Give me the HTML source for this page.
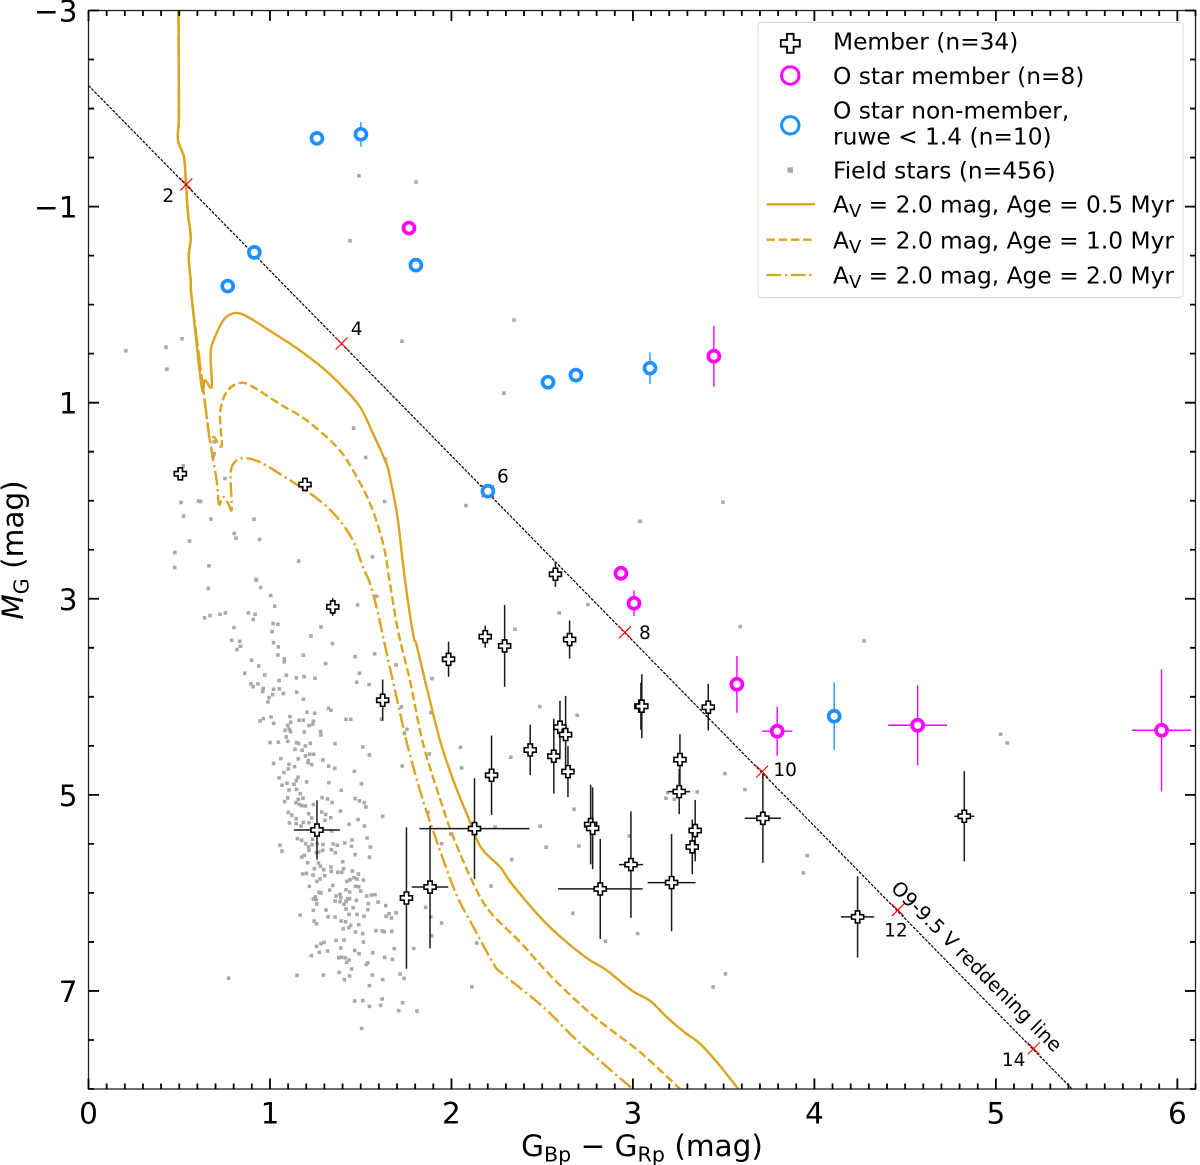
<!DOCTYPE html>
<html lang="en">
<head>
<meta charset="utf-8">
<title>Colour-magnitude diagram</title>
<style>
  html, body { margin: 0; padding: 0; background: #fff; }
  svg { display: block; font-family: "DejaVu Sans", "Liberation Sans", sans-serif; fill: #000; }
</style>
</head>
<body>
<svg id="chart" xmlns="http://www.w3.org/2000/svg" width="1200" height="1165" viewBox="0 0 1200 1165">
  <defs>
    <clipPath id="plot-clip"><rect x="88.5" y="10.5" width="1107" height="1078.5"></rect></clipPath>
  </defs>
  <rect x="0" y="0" width="1200" height="1165" fill="#fff"></rect>
  <g id="field-layer" clip-path="url(#plot-clip)"></g>
  <g id="iso-layer" clip-path="url(#plot-clip)"></g>
  <g id="reddening-layer" clip-path="url(#plot-clip)"></g>
  <g id="member-layer"></g>
  <g id="ostar-layer"></g>
  <g id="axes-layer"></g>

  <text x="642" y="1156" font-size="29.5" text-anchor="middle">G<tspan font-size="20.6" dy="5.5">Bp</tspan><tspan dy="-5.5"> − G</tspan><tspan font-size="20.6" dy="5.5">Rp</tspan><tspan dy="-5.5"> (mag)</tspan></text>
  <text transform="translate(23,550) rotate(-90)" font-size="29.5" text-anchor="middle"><tspan font-style="italic">M</tspan><tspan font-size="20.6" dy="5.5">G</tspan><tspan dy="-5.5"> (mag)</tspan></text>

  <g>
    <rect x="758" y="22.5" width="425" height="275" rx="4" fill="#fff" fill-opacity="0.85" stroke="#d8d8d8" stroke-width="1"></rect>
    <g>
      <path d="M-3.3,-9.5H3.3V-3.3H9.5V3.3H3.3V9.5H-3.3V3.3H-9.5V-3.3H-3.3Z" transform="translate(790.3,43.3)" fill="#fff" stroke="#000" stroke-width="1.8"></path>
      <text x="833" y="49.5" font-size="23.3">Member (n=34)</text>
    </g>
    <g>
      <circle cx="790.3" cy="75.5" r="8.7" fill="#fff" stroke="#ff00ff" stroke-width="3"></circle>
      <text x="833" y="84" font-size="23.3">O star member (n=8)</text>
    </g>
    <g>
      <circle cx="790.3" cy="125.3" r="8.7" fill="#fff" stroke="#1e90ff" stroke-width="3"></circle>
      <text x="833" y="118.3" font-size="23.3">O star non-member,</text>
      <text x="833" y="144.3" font-size="23.3">ruwe &lt; 1.4 (n=10)</text>
    </g>
    <g>
      <rect x="787.5" y="167.3" width="5.5" height="5.5" fill="#a9a9a9"></rect>
      <text x="833" y="178.3" font-size="23.3">Field stars (n=456)</text>
    </g>
    <g>
      <line x1="766.5" y1="204.3" x2="815" y2="204.3" stroke="#daa520" stroke-width="2.3"></line>
      <text x="833" y="212.7" font-size="23.3">A<tspan font-size="18" dy="4.5">V</tspan><tspan dy="-4.5"> = 2.0 mag, Age = 0.5 Myr</tspan></text>
    </g>
    <g>
      <line x1="766.5" y1="239.7" x2="815" y2="239.7" stroke="#daa520" stroke-width="2.3" stroke-dasharray="8.5 3.7"></line>
      <text x="833" y="248.3" font-size="23.3">A<tspan font-size="18" dy="4.5">V</tspan><tspan dy="-4.5"> = 2.0 mag, Age = 1.0 Myr</tspan></text>
    </g>
    <g>
      <line x1="766.5" y1="275" x2="815" y2="275" stroke="#daa520" stroke-width="2.3" stroke-dasharray="14.7 3.7 2.3 3.7"></line>
      <text x="833" y="283.3" font-size="23.3">A<tspan font-size="18" dy="4.5">V</tspan><tspan dy="-4.5"> = 2.0 mag, Age = 2.0 Myr</tspan></text>
    </g>
  </g>
</svg>

<script>
const xMajorTicks = [0, 1, 2, 3, 4, 5, 6];
const xTickLabels = ['0', '1', '2', '3', '4', '5', '6'];
const yMajorTicks = [-3, -1, 1, 3, 5, 7];
const yTickLabels = ['−3', '−1', '1', '3', '5', '7'];

const reddeningColor = [0, 5.42];
const reddeningMag = [-2.235, 8];
const extinctionLabels = ['2', '4', '6', '8', '10', '12', '14'];
const extinctionColor = [0.539, 1.395, 2.201, 2.956, 3.712, 4.46, 5.208];
const extinctionMag = [-1.226, 0.396, 1.903, 3.342, 4.763, 6.175, 7.587];

const memberColor = [1.984, 2.186, 2.293, 2.651, 3.044, 3.049, 3.415, 2.598, 2.629, 2.564, 2.642, 2.434, 2.221, 2.127, 1.882, 1.752, 1.259, 1.621, 1.346, 0.506, 1.193, 2.573, 3.259, 3.255, 2.767, 2.778, 3.343, 3.327, 2.989, 3.213, 2.82, 3.716, 4.826, 4.238];
const memberMag = [3.617, 3.386, 3.481, 3.416, 4.096, 4.096, 4.106, 4.31, 4.385, 4.606, 4.763, 4.542, 4.8, 5.344, 5.94, 6.052, 5.359, 4.035, 3.083, 1.725, 1.834, 2.75, 4.64, 4.967, 5.303, 5.341, 5.364, 5.531, 5.711, 5.895, 5.959, 5.239, 5.218, 6.245];
const memberColorErr = [0.01, 0.01, 0.01, 0.01, 0.01, 0.01, 0.012, 0.01, 0.01, 0.01, 0.01, 0.01, 0.01, 0.303, 0.101, 0.01, 0.127, 0.01, 0.01, 0.01, 0.01, 0.01, 0.01, 0.06, 0.01, 0.01, 0.02, 0.012, 0.066, 0.132, 0.233, 0.1, 0.055, 0.092];
const memberMagErr = [0.18, 0.114, 0.417, 0.195, 0.24, 0.326, 0.238, 0.27, 0.394, 0.382, 0.26, 0.257, 0.406, 0.513, 0.626, 0.721, 0.302, 0.211, 0.09, 0.03, 0.03, 0.13, 0.26, 0.23, 0.406, 0.417, 0.313, 0.279, 0.542, 0.496, 0.51, 0.454, 0.46, 0.415];

const oMemberColor = [1.766, 3.446, 2.934, 3.006, 3.573, 3.795, 4.569, 5.913];
const oMemberMag = [-0.781, 0.526, 2.74, 3.046, 3.872, 4.351, 4.29, 4.341];
const oMemberColorErr = [0.005, 0.005, 0.01, 0.01, 0.01, 0.084, 0.162, 0.162];
const oMemberMagErr = [0.06, 0.31, 0.04, 0.13, 0.29, 0.25, 0.408, 0.622];

const oOtherColor = [1.259, 1.501, 0.914, 0.767, 1.804, 2.532, 2.686, 3.094, 4.109, 2.201];
const oOtherMag = [-1.696, -1.737, -0.533, -0.189, -0.403, 0.791, 0.719, 0.648, 4.198, 1.903];
const oOtherColorErr = [0.005, 0.005, 0.005, 0.005, 0.005, 0.01, 0.01, 0.01, 0.01, 0.01];
const oOtherMagErr = [0.02, 0.124, 0.02, 0.02, 0.02, 0.06, 0.07, 0.16, 0.345, 0.04];

const isochroneUpper = [[0.496,-3],[0.497,-2.495],[0.498,-1.913],[0.493,-1.679],[0.526,-1.505],[0.537,-1.23],[0.548,-0.934],[0.563,-0.689],[0.552,-0.485],[0.563,-0.25],[0.57,-0.046]];
const isochroneAge05 = [[0.624,0.839],[0.642,0.77],[0.679,0.839],[0.673,0.495],[0.697,0.329],[0.752,0.138],[0.817,0.084],[0.89,0.138],[1,0.267],[1.147,0.444],[1.292,0.648],[1.402,0.842],[1.496,1.043],[1.567,1.311],[1.634,1.587],[1.661,1.757],[1.705,2.199],[1.744,2.811],[1.79,3.372],[1.808,3.474],[1.863,3.9],[1.937,4.444],[2.01,4.852],[2.084,5.192],[2.161,5.532],[2.268,5.736],[2.332,5.906],[2.488,6.246],[2.608,6.46],[2.745,6.664],[2.856,6.79],[2.993,6.994],[3.098,7.106],[3.186,7.266],[3.287,7.426],[3.366,7.531],[3.462,7.725],[3.581,8]];
const isochroneAge10 = [[0.642,1.005],[0.669,1.383],[0.691,1.349],[0.734,1.441],[0.725,1.107],[0.761,0.89],[0.835,0.798],[0.906,0.839],[1.055,1.015],[1.202,1.179],[1.368,1.451],[1.457,1.689],[1.551,2.026],[1.623,2.434],[1.661,2.842],[1.705,3.321],[1.771,3.832],[1.843,4.474],[1.937,5.039],[2.01,5.43],[2.121,5.906],[2.213,6.195],[2.378,6.501],[2.562,6.875],[2.8,7.283],[3.039,7.623],[3.26,8]];
const isochroneAge20 = [[0.642,1.005],[0.669,1.383],[0.706,1.791],[0.719,2.036],[0.741,1.961],[0.769,2.026],[0.789,2.087],[0.783,1.757],[0.796,1.628],[0.851,1.566],[0.945,1.607],[1.11,1.791],[1.257,1.974],[1.368,2.165],[1.457,2.403],[1.512,2.676],[1.551,2.842],[1.595,3.148],[1.643,3.556],[1.705,4.066],[1.76,4.512],[1.843,5.056],[1.937,5.566],[2.029,6.025],[2.121,6.348],[2.231,6.722],[2.277,6.817],[2.506,7.164],[2.672,7.47],[2.837,7.742],[2.999,8]];

const fieldStars = [
[0.66,2.893],[0.925,2.811],[0.949,2.886],[1.004,2.967],[1.026,3.076],[0.64,3.195],[0.67,3.171],[0.725,3.158],[0.754,3.144],[0.881,3.144],[0.918,3.158],[0.908,3.212],[1.017,3.253],[1.044,3.26],[1.011,3.335],[0.802,3.294],[0.789,3.423],[0.833,3.433],[0.837,3.484],[0.818,3.518],[1.02,3.447],[1.046,3.491],[1.044,3.573],[1.079,3.613],[1.079,3.644],[0.899,3.627],[0.938,3.685],[0.861,3.76],[0.971,3.777],[1.09,3.78],[1.145,3.807],[1.188,3.794],[1.248,3.811],[1.05,3.834],[0.895,3.868],[0.907,3.896],[0.934,3.868],[0.963,3.916],[0.96,3.947],[1.02,3.923],[1.052,3.919],[1.015,3.977],[1.074,3.967],[0.995,4.008],[0.989,4.052],[1.147,3.953],[1.184,4.025],[1.281,3.287],[1.226,3.379],[1.344,3.457],[1.184,3.576],[1.307,3.661],[1.469,3.59],[1.483,3.063],[1.588,2.974],[1.577,3.562],[1.695,3.675],[1.493,3.76],[1.478,3.851],[1.546,3.875],[1.893,3.814],[1.724,4.103],[1.887,4.161],[1.755,4.331],[1.741,4.375],[1.878,4.582],[1.729,4.705],
[1.204,4.157],[1.246,4.168],[1.322,4.117],[1.336,4.137],[1.419,4.229],[1.445,4.229],[1.614,4.229],[1.11,4.202],[1.16,4.239],[1.184,4.239],[1.239,4.249],[1.215,4.293],[1.235,4.28],[1.006,4.205],[0.963,4.222],[0.945,4.246],[1.02,4.27],[1.114,4.259],[1.098,4.293],[1.083,4.341],[1.107,4.331],[1.114,4.355],[1.189,4.358],[1.279,4.355],[1.281,4.389],[1.09,4.409],[1.098,4.453],[1,4.467],[1.046,4.463],[1.147,4.467],[1.158,4.477],[1.222,4.474],[1.195,4.501],[1.358,4.477],[1.138,4.535],[1.177,4.545],[1.511,4.511],[1.548,4.593],[1.195,4.603],[1.219,4.586],[1.241,4.586],[1.156,4.633],[1.211,4.65],[1.292,4.644],[1.02,4.678],[1.059,4.63],[1.105,4.688],[1.136,4.712],[1.101,4.735],[1.077,4.773],[1.21,4.671],[1.23,4.691],[1.324,4.708],[1.357,4.729],[1.465,4.759],[1.05,4.827],[1.155,4.82],[1.145,4.854],[1.132,4.892],[1.094,4.882],[1.066,4.902],[1.202,4.868],[1.324,4.875],[1.504,4.888],[1.105,4.95],[1.147,4.943],[1.167,4.987],[1.393,4.953],[1.098,5.031],[1.081,5.069],[1.156,5.045],[1.182,5.035],[1.287,5.028],[1.318,5.041],[1.342,5.079],[1.469,5.038],[1.493,5.062],[1.52,5.079],[1.529,5.123],[1.143,5.079],[1.162,5.096],[1.175,5.109],[1.195,5.113],[1.239,5.099],
[1.101,5.178],[1.12,5.206],[1.144,5.243],[1.213,5.192],[1.23,5.236],[1.285,5.175],[1.307,5.199],[1.335,5.233],[1.303,5.26],[1.107,5.287],[1.144,5.294],[1.184,5.28],[1.215,5.284],[1.171,5.318],[1.34,5.369],[1.388,5.165],[1.436,5.301],[1.485,5.253],[1.52,5.318],[1.621,5.219],[1.535,5.44],[1.553,5.532],[1.469,5.61],[1.548,5.634],[1.452,5.461],[1.412,5.491],[1.449,5.525],[1.371,5.515],[1.348,5.501],[1.292,5.505],[1.291,5.566],[1.338,5.559],[1.36,5.59],[1.269,5.583],[1.256,5.59],[1.19,5.617],[1.175,5.634],[1.055,5.515],[1.066,5.573],[1.151,5.447],[1.175,5.464],[1.197,5.498],[1.212,5.532],[1.215,5.566],[1.235,5.454],[1.261,5.498],[1.232,5.508],
[1.208,5.692],[1.267,5.695],[1.278,5.729],[1.245,5.753],[1.296,5.763],[1.336,5.736],[1.338,5.78],[1.373,5.79],[1.401,5.682],[1.406,5.753],[1.395,5.79],[1.454,5.777],[1.487,5.807],[1.18,5.807],[1.201,5.801],[1.237,5.818],[1.302,5.824],[1.276,5.858],[1.259,5.882],[1.463,5.845],[1.441,5.865],[1.423,5.882],[1.48,5.858],[1.515,5.869],[1.217,5.933],[1.346,5.923],[1.329,5.971],[1.419,5.967],[1.439,5.991],[1.472,5.933],[1.489,5.937],[1.5,5.981],[1.27,5.994],[1.281,6.001],[1.25,6.042],[1.239,6.062],[1.254,6.069],[1.258,6.113],[1.364,6.032],[1.386,6.015],[1.39,6.049],[1.428,6.062],[1.438,6.059],[1.359,6.083],[1.386,6.09],[1.419,6.086],[1.408,6.117],[1.476,6.076],[1.533,6.032],[1.559,6.022],[1.579,6.018],[1.542,6.11],[1.596,6.093],[1.638,6.13],[1.239,6.178],[1.309,6.175],[1.419,6.164],[1.458,6.151],[1.539,6.171],[1.166,6.226],[1.32,6.243],[1.359,6.246],[1.436,6.219],[1.48,6.219],[1.518,6.239],[1.656,6.212],[1.695,6.202],[1.64,6.239],[1.669,6.256],[1.392,6.287],[1.417,6.294],[1.243,6.287],[1.256,6.314],[1.445,6.331],[1.489,6.324],[1.434,6.355],[1.404,6.365],[1.471,6.399],[1.511,6.416],[1.584,6.385],[1.619,6.389],[1.63,6.396],[1.671,6.392],[1.515,6.501],[1.408,6.481],[1.364,6.484],[1.298,6.504],[1.281,6.518],[1.256,6.545],[1.39,6.562],[1.318,6.593],[1.272,6.606],[1.228,6.64],[1.467,6.586],[1.491,6.62],[1.566,6.61],[1.685,6.569],[1.792,6.566],[1.632,6.657],[1.675,6.678],[1.379,6.661],[1.393,6.657],[1.414,6.661],[1.436,6.685],[1.423,6.708],[1.539,6.715],[1.531,6.729],[1.45,6.776],[1.381,6.81],[1.439,6.848],[1.41,6.885],[1.294,6.838],[1.149,6.841],[1.564,6.838],[1.621,6.885],[1.717,6.827],[1.739,6.872],[1.548,6.946],[1.467,7.103],[1.511,7.099],[1.618,7.082],[1.731,7.12],[1.548,7.157],[1.61,7.147],[1.709,7.201],[1.81,7.205],[1.505,7.382],[2.112,6.957],[1.871,5.178],[1.996,5.399],[1.946,5.498],[2.24,5.328],[2.332,5.661],[2.218,5.93],[1.858,6.147],[1.886,6.243],[1.946,6.307],[1.891,6.436],[2.139,6.511],
[0.515,0.348],[0.427,0.433],[0.206,0.471],[0.432,0.658],[0.693,1.399],[0.693,1.521],[0.686,1.552],[0.522,1.644],[1.461,1.26],[1.527,1.559],[1.636,1.576],[0.752,1.773],[1.632,2.008],[0.51,2.018],[0.607,2.004],[0.618,2.008],[0.524,2.157],[0.675,2.188],[0.912,2.188],[0.803,2.334],[0.813,2.382],[0.943,2.395],[0.557,2.412],[0.476,2.528],[0.475,2.681],[0.664,2.664],[1.158,2.616],[1.564,2.572],[0.923,2.803],
[1.49,-1.314],[1.441,-0.651],[2.345,0.157],[1.727,0.373],[2.289,0.903],[3.496,2.015],[3.039,2.21],[2.08,2.05],[4.274,3.43],[1.805,-1.25],[0.772,6.87],
[2.752,3.059],[2.594,3.144],[2.35,3.311],[3.591,3.284],[2.487,4.1],[2.693,4.188],[2.05,4.514],[2.056,4.725],[2.327,4.616],[3.507,4.783],[3.617,4.946],[3.354,4.97],[3.191,4.977],[3.182,5.035],[3.228,5.045],[2.675,5.147],[2.489,5.32],[2.98,5.419],[2.702,5.521],[2.522,5.534],[2.669,6.208],[3.026,6.415],[2.849,6.493],[3.961,5.619],[3.94,5.796],[3.51,6.826],[3.442,6.959],[5.026,4.382],[5.063,4.47]
];

const xDomain = [0, 6.1];
const yDomain = [-3, 8];
const plotLeft = 88.5, plotRight = 1195.5, plotTop = 10.5, plotBottom = 1089;

function sx(v) { return plotLeft + (v - xDomain[0]) / (xDomain[1] - xDomain[0]) * (plotRight - plotLeft); }
function sy(v) { return plotTop + (v - yDomain[0]) / (yDomain[1] - yDomain[0]) * (plotBottom - plotTop); }
const NS = 'http://www.w3.org/2000/svg';
function make(tag, parent, attrs) {
  const el = document.createElementNS(NS, tag);
  for (const k in attrs) el.setAttribute(k, attrs[k]);
  parent.appendChild(el);
  return el;
}

/* field stars */
const fieldLayer = document.getElementById('field-layer');
fieldStars.forEach(function (p) {
  const el = make('rect', fieldLayer, { x: sx(p[0]) - 1.8, y: sy(p[1]) - 1.8, width: 3.6, height: 3.6, fill: '#a9a9a9' });
  
  
});

/* isochrones: smooth curve through the read points */
const isoLayer = document.getElementById('iso-layer');
function isoPath(points) {
  const pts = isochroneUpper.concat(points).map(function (p) { return [sx(p[0]), sy(p[1])]; });
  let d = 'M' + pts[0][0].toFixed(1) + ',' + pts[0][1].toFixed(1);
  for (let i = 0; i < pts.length - 1; i++) {
    const a = pts[Math.max(i - 1, 0)], b = pts[i], c = pts[i + 1], e = pts[Math.min(i + 2, pts.length - 1)];
    d += 'C' + (b[0] + (c[0] - a[0]) / 6).toFixed(1) + ',' + (b[1] + (c[1] - a[1]) / 6).toFixed(1) + ' ' +
      (c[0] - (e[0] - b[0]) / 6).toFixed(1) + ',' + (c[1] - (e[1] - b[1]) / 6).toFixed(1) + ' ' +
      c[0].toFixed(1) + ',' + c[1].toFixed(1);
  }
  return d;
}
const isoSolid = make('path', isoLayer, { d: isoPath(isochroneAge05), fill: 'none', stroke: '#daa520', 'stroke-width': 2.4 });


const isoDashed = make('path', isoLayer, { d: isoPath(isochroneAge10), fill: 'none', stroke: '#daa520', 'stroke-width': 2.4, 'stroke-dasharray': '8.5 3.7' });


const isoDashDot = make('path', isoLayer, { d: isoPath(isochroneAge20), fill: 'none', stroke: '#daa520', 'stroke-width': 2.4, 'stroke-dasharray': '14.7 3.7 2.3 3.7' });



/* reddening line */
const redLayer = document.getElementById('reddening-layer');
const redLine = make('line', redLayer, { x1: sx(reddeningColor[0]), y1: sy(reddeningMag[0]), x2: sx(reddeningColor[1]), y2: sy(reddeningMag[1]), stroke: '#000', 'stroke-width': 1.2, 'stroke-dasharray': '3 1.3' });


const extinctionLabelShift = [[-18, 11], [15, -15], [15, -15], [20, 0], [23, -2], [-2, 20], [-20, 11]];
extinctionColor.forEach(function (c, i) {
  const cx = sx(c), cy = sy(extinctionMag[i]);
  const mark = make('path', document.getElementById('reddening-layer'), { d: 'M' + (cx - 6) + ',' + (cy - 6) + 'L' + (cx + 6) + ',' + (cy + 6) + 'M' + (cx - 6) + ',' + (cy + 6) + 'L' + (cx + 6) + ',' + (cy - 6), stroke: '#ff0000', 'stroke-width': 1.1, fill: 'none' });
  
  
  const label = make('text', document.getElementById('chart'), { x: cx + extinctionLabelShift[i][0], y: cy + extinctionLabelShift[i][1] + 6.5, 'font-size': 18.5, 'text-anchor': 'middle' });
  label.textContent = extinctionLabels[i];
  
  
});
const redTitle = make('text', document.getElementById('chart'), { transform: 'translate(976.5,966.5) rotate(45)', 'font-size': 19.5, 'text-anchor': 'middle', 'dominant-baseline': 'central' });
redTitle.textContent = 'O9-9.5 V reddening line';



/* members */
const memberLayer = document.getElementById('member-layer');
memberColor.forEach(function (c, i) {
  const cx = sx(c), cy = sy(memberMag[i]);
  const bars = make('path', memberLayer, { d: 'M' + sx(c - memberColorErr[i]) + ',' + cy + 'H' + sx(c + memberColorErr[i]) + 'M' + cx + ',' + sy(memberMag[i] - memberMagErr[i]) + 'V' + sy(memberMag[i] + memberMagErr[i]), stroke: '#1a1a1a', 'stroke-width': 1.5, fill: 'none' });
  
  
});
memberColor.forEach(function (c, i) {
  const mark = make('path', memberLayer, { d: 'M-2.2,-6H2.2V-2.2H6V2.2H2.2V6H-2.2V2.2H-6V-2.2H-2.2Z', transform: 'translate(' + sx(c) + ',' + sy(memberMag[i]) + ')', fill: '#fff', stroke: '#000', 'stroke-width': 1.6 });
  
  
});

/* O stars */
const ostarLayer = document.getElementById('ostar-layer');
oOtherColor.forEach(function (c, i) {
  const cx = sx(c), cy = sy(oOtherMag[i]);
  const bars = make('path', ostarLayer, { d: 'M' + sx(c - oOtherColorErr[i]) + ',' + cy + 'H' + sx(c + oOtherColorErr[i]) + 'M' + cx + ',' + sy(oOtherMag[i] - oOtherMagErr[i]) + 'V' + sy(oOtherMag[i] + oOtherMagErr[i]), stroke: '#1e90ff', 'stroke-width': 1.4, fill: 'none' });
  
  
  const mark = make('circle', ostarLayer, { cx: cx, cy: cy, r: 5.5, fill: '#fff', stroke: '#1e90ff', 'stroke-width': 3.7 });
  
  
});
oMemberColor.forEach(function (c, i) {
  const cx = sx(c), cy = sy(oMemberMag[i]);
  const bars = make('path', ostarLayer, { d: 'M' + sx(c - oMemberColorErr[i]) + ',' + cy + 'H' + sx(c + oMemberColorErr[i]) + 'M' + cx + ',' + sy(oMemberMag[i] - oMemberMagErr[i]) + 'V' + sy(oMemberMag[i] + oMemberMagErr[i]), stroke: '#ff00ff', 'stroke-width': 1.4, fill: 'none' });
  
  
  const mark = make('circle', ostarLayer, { cx: cx, cy: cy, r: 5.5, fill: '#fff', stroke: '#ff00ff', 'stroke-width': 3.7 });
  
  
});

/* axes */
const axesLayer = document.getElementById('axes-layer');
const frame = make('rect', axesLayer, { x: plotLeft, y: plotTop, width: plotRight - plotLeft, height: plotBottom - plotTop, fill: 'none', stroke: '#222', 'stroke-width': 1.3 });


let tickPath = '';
for (let k = 0; k <= 61; k++) {
  const v = k / 10, major = k % 10 === 0, len = major ? 10.5 : 5.5, x = sx(v);
  tickPath += 'M' + x + ',' + plotBottom + 'v' + (-len) + 'M' + x + ',' + plotTop + 'v' + len;
}
for (let k = 0; k <= 22; k++) {
  const v = yDomain[0] + k / 2, major = k % 4 === 0, len = major ? 10.5 : 5.5, y = sy(v);
  tickPath += 'M' + plotLeft + ',' + y + 'h' + len + 'M' + plotRight + ',' + y + 'h' + (-len);
}
const ticks = make('path', axesLayer, { d: tickPath, stroke: '#000', 'stroke-width': 1.8, fill: 'none' });


xMajorTicks.forEach(function (v, i) {
  const t = make('text', axesLayer, { x: sx(v), y: 1123.5, 'font-size': 29.5, 'text-anchor': 'middle' });
  t.textContent = xTickLabels[i];
  
  
});
yMajorTicks.forEach(function (v, i) {
  const t = make('text', axesLayer, { x: 77.5, y: sy(v) + 11, 'font-size': 29.5, 'text-anchor': 'end' });
  t.textContent = yTickLabels[i];
  
  
});
</script>
</body>
</html>
